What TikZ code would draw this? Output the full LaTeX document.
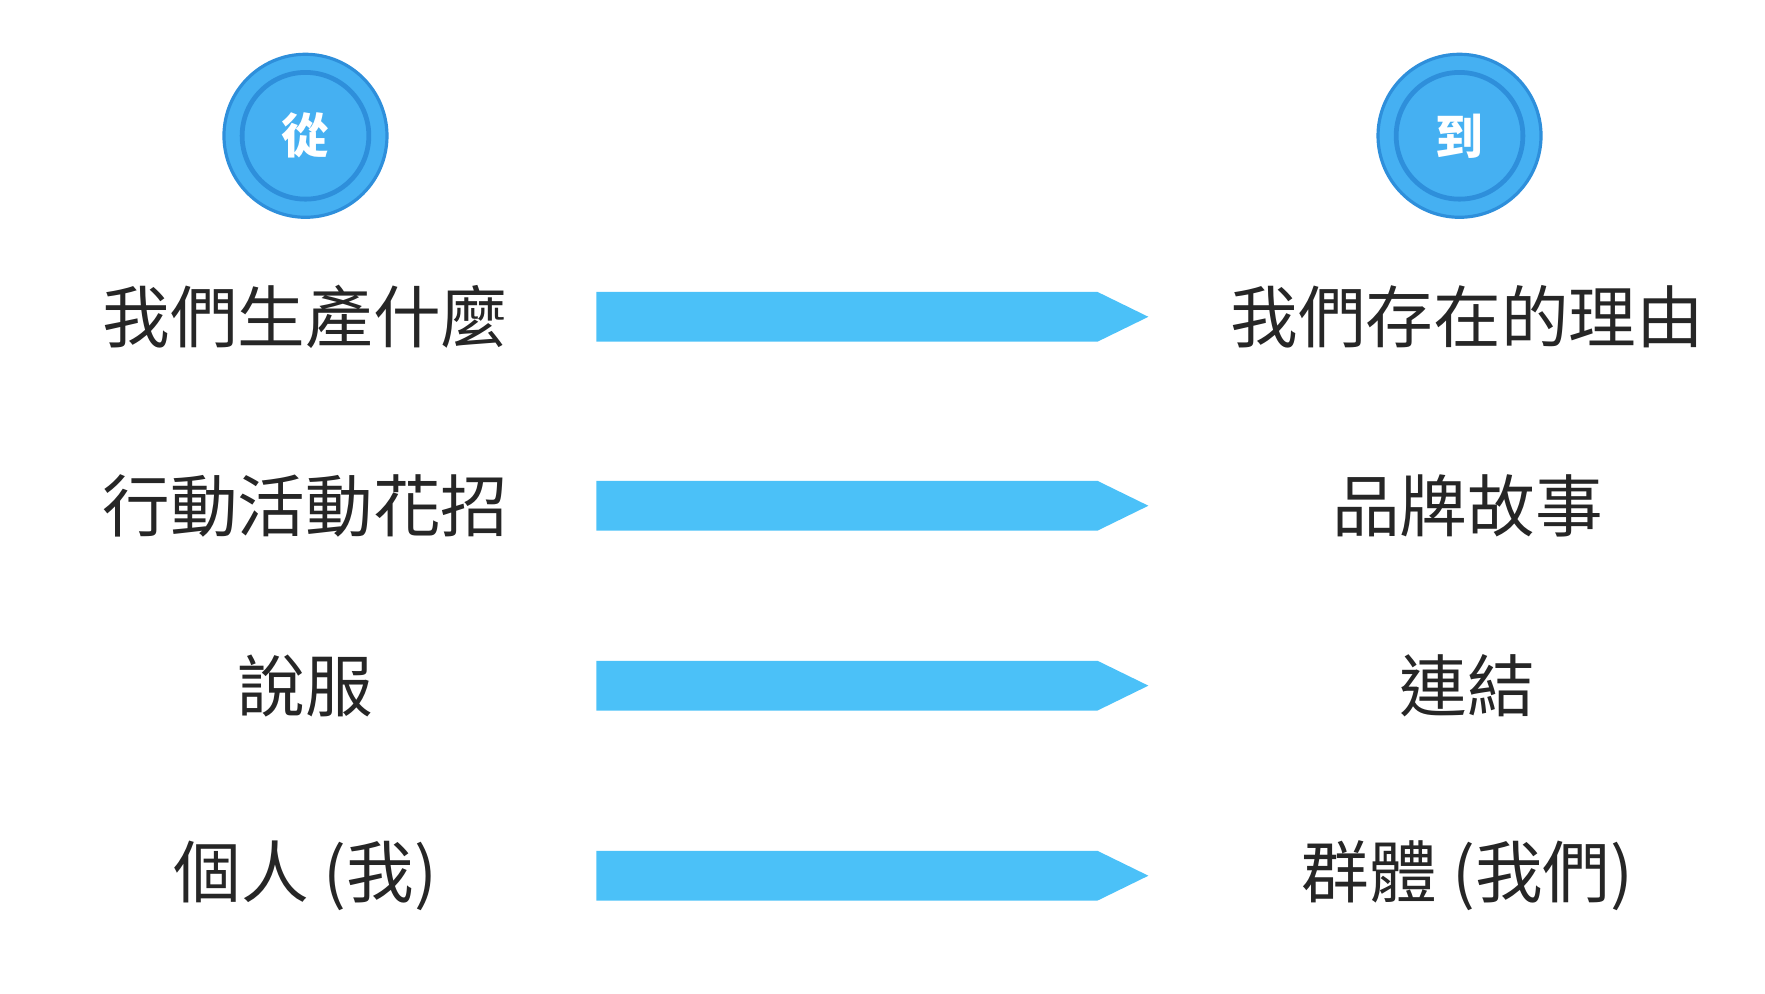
\documentclass[tikz,border=0pt]{standalone}
\usepackage{fontspec}
\newfontfamily\cjk{Noto Sans CJK TC}
\begin{document}
\begin{tikzpicture}[x=0.01cm,y=-0.01cm,
  lbl/.style={font=\cjk\fontsize{17}{20}\selectfont,text=black!85,anchor=center},
  arr/.style={fill=arrowblue,draw=none},
  badge/.style={circle,minimum size=1.44cm,fill=circblue,draw=circedge,line width=0.8pt,
    font=\cjk\bfseries\fontsize{12}{14}\selectfont,text=white}]
\definecolor{arrowblue}{HTML}{4BC1F8}
\definecolor{circblue}{HTML}{45B0F2}
\definecolor{circedge}{HTML}{2E8FDB}
\useasboundingbox (0,0) rectangle (1560,878);
\node[badge] (from) at (270,120) {從};
\draw[circedge,line width=1.2pt] (from.center) circle[radius=56];
\node[badge] (to) at (1290,120) {到};
\draw[circedge,line width=1.2pt] (to.center) circle[radius=56];
\foreach \y/\a/\b [count=\i] in {280/我們生產什麼/我們存在的理由,447/行動活動花招/品牌故事,606/說服/連結,774/個人 (我)/群體 (我們)}{
  \node[lbl] (l\i) at (270,\y) {\a};
  \node[lbl] (r\i) at (1297,\y) {\b};
  \fill[arr] (527,\y-22) -- (970,\y-22) -- (1015,\y) -- (970,\y+22) -- (527,\y+22) -- cycle;
}
\end{tikzpicture}
\end{document}
